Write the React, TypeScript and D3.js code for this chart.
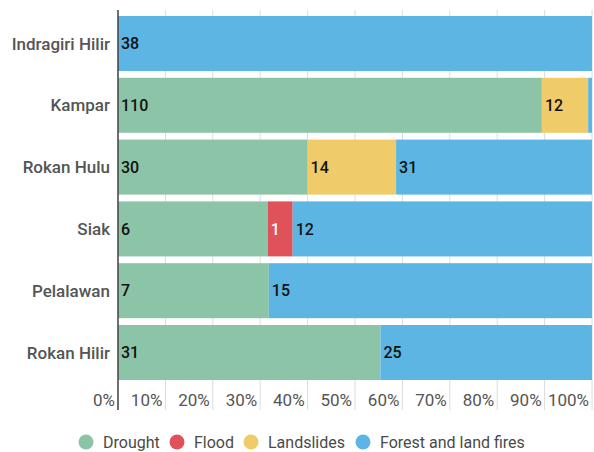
import React from "react";
import * as d3 from "d3";

const categories = ["Indragiri Hilir", "Kampar", "Rokan Hulu", "Siak", "Pelalawan", "Rokan Hilir"];
const seriesNames = ["Drought", "Flood", "Landslides", "Forest and land fires"];
const drought = [0, 110, 30, 6, 7, 31];
const flood = [0, 0, 0, 1, 0, 0];
const landslides = [0, 12, 14, 0, 0, 0];
const fires = [38, 1, 31, 12, 15, 25];
const colors = ["#8cc4a8", "#e0525a", "#f0cb6a", "#5db5e3"];
const labelColors = ["#111", "#fff", "#111", "#111"];
const tickValues = [0, 0.1, 0.2, 0.3, 0.4, 0.5, 0.6, 0.7, 0.8, 0.9, 1];

const W = 594;
const H = 452;
const left = 118;
const right = 592;
const top = 12.6;
const bottom = 383.4;

export default function App() {
  const x = d3.scaleLinear().domain([0, 1]).range([left, right]);
  const y = d3.scaleBand<string>().domain(categories).range([top, bottom]).paddingInner(0.11).paddingOuter(0.055);
  const rows = categories.map((c, i) => ({
    cat: c,
    Drought: drought[i],
    Flood: flood[i],
    Landslides: landslides[i],
    "Forest and land fires": fires[i],
  }));
  const stack = d3.stack<any>().keys(seriesNames).offset(d3.stackOffsetExpand);
  const layers = stack(rows);
  const fmt = d3.format(".0%");
  const font = "Roboto, sans-serif";

  const legendCx = [86, 177, 251, 363];

  return (
    <div style={{ position: "absolute", left: 0, top: 0 }}>
      <svg width={W} height={H} style={{ display: "block" }}>
        <rect width={W} height={H} fill="#fff" />
        {tickValues.map((t) => (
          <line key={t} x1={x(t)} x2={x(t)} y1={10} y2={410} stroke="#dcdcdc" strokeWidth={1} />
        ))}
        {layers.map((layer, si) => (
          <g key={layer.key}>
            {layer.map((d, i) => {
              const w = x(d[1]) - x(d[0]);
              if (w <= 0) return null;
              return (
                <rect
                  key={i}
                  x={x(d[0])}
                  y={y(categories[i])}
                  width={w}
                  height={y.bandwidth()}
                  fill={colors[si]}
                />
              );
            })}
          </g>
        ))}
        {layers.map((layer, si) => (
          <g key={layer.key + "l"}>
            {layer.map((d, i) => {
              const v = (d.data as any)[layer.key] as number;
              const w = x(d[1]) - x(d[0]);
              if (v <= 0 || w < 12) return null;
              return (
                <text
                  key={i}
                  x={x(d[0]) + 3}
                  y={(y(categories[i]) as number) + y.bandwidth() / 2}
                  dy="0.36em"
                  fontFamily={font}
                  fontSize={16}
                  fontWeight={500}
                  fill={labelColors[si]}
                >
                  {v}
                </text>
              );
            })}
          </g>
        ))}
        <line x1={left} x2={left} y1={10} y2={410} stroke="#444" strokeWidth={1.5} />
        {categories.map((c) => (
          <text
            key={c}
            x={110}
            y={(y(c) as number) + y.bandwidth() / 2}
            dy="0.36em"
            textAnchor="end"
            fontFamily={font}
            fontSize={17}
            fontWeight={500}
            fill="#555"
          >
            {c}
          </text>
        ))}
        {tickValues.map((t) => (
          <text
            key={"t" + t}
            x={x(t) - 3}
            y={400}
            dy="0.36em"
            textAnchor="end"
            fontFamily={font}
            fontSize={17}
            fill="#555"
          >
            {fmt(t)}
          </text>
        ))}
        {seriesNames.map((s, i) => (
          <g key={s}>
            <circle cx={legendCx[i]} cy={442} r={7.5} fill={colors[i]} />
            <text x={legendCx[i] + 17} y={442} dy="0.36em" fontFamily={font} fontSize={16} fill="#4a4a4a">
              {s}
            </text>
          </g>
        ))}
      </svg>
    </div>
  );
}
